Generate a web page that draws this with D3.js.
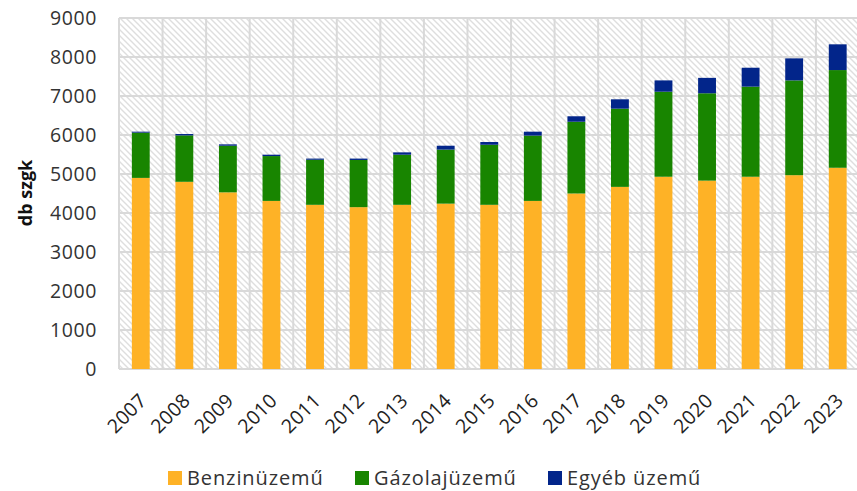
<!DOCTYPE html>
<html>
<head>
<meta charset="utf-8">
<script src="https://cdn.jsdelivr.net/npm/d3@7"></script>
<style>
  body { margin: 0; background: #fff; }
  svg { display: block; font-family: "Open Sans", sans-serif; }
</style>
</head>
<body>
<svg id="chart" width="857" height="491"></svg>
<script>
// chart data
let years = ["2007", "2008", "2009", "2010", "2011", "2012", "2013", "2014", "2015",
  "2016", "2017", "2018", "2019", "2020", "2021", "2022", "2023"];
let benzin = [4900, 4800, 4530, 4310, 4210, 4150, 4210, 4240, 4210,
  4310, 4500, 4670, 4930, 4830, 4930, 4970, 5160];
let gazolaj = [1160, 1190, 1195, 1150, 1155, 1210, 1285, 1385, 1540,
  1675, 1840, 2005, 2180, 2240, 2310, 2430, 2505];
let egyeb = [25, 35, 35, 35, 30, 35, 60, 100, 70,
  100, 140, 240, 290, 395, 485, 565, 660];
let seriesNames = ["Benzinüzemű", "Gázolajüzemű", "Egyéb üzemű"];
let yTicks = [0, 1000, 2000, 3000, 4000, 5000, 6000, 7000, 8000, 9000];

let colors = ["#feb226", "#188500", "#02258a"];
let grid = "#d9d9d9";

let plotLeft = 119, plotRight = 859.5, plotTop = 18, plotBottom = 369;

let svg = d3.select("#chart");

// hatch for plot background
let defs = svg.append("defs");
let pat = defs.append("pattern")
  .attr("id", "hatch")
  .attr("patternUnits", "userSpaceOnUse")
  .attr("width", 6)
  .attr("height", 6);
pat.append("rect").attr("width", 6).attr("height", 6).attr("fill", "#fff");
pat.append("path")
  .attr("d", "M-1,-1 L7,7 M-1,5 L1,7 M5,-1 L7,1")
  .attr("stroke", "#dedede")
  .attr("stroke-width", 1.4);

let x = d3.scaleBand()
  .domain(years)
  .range([plotLeft, plotRight])
  .paddingInner(0.59)
  .paddingOuter(0.295);

let y = d3.scaleLinear()
  .domain([0, 9000])
  .range([plotBottom, plotTop]);

svg.append("rect")
  .attr("x", plotLeft)
  .attr("y", plotTop)
  .attr("width", plotRight - plotLeft)
  .attr("height", plotBottom - plotTop)
  .attr("fill", "url(#hatch)");

// gridlines
let step = x.step();
svg.append("g")
  .selectAll("line")
  .data(years)
  .enter()
  .append("line")
  .attr("x1", d => x(d) - step * 0.295)
  .attr("x2", d => x(d) - step * 0.295)
  .attr("y1", plotTop)
  .attr("y2", plotBottom)
  .attr("stroke", grid)
  .attr("stroke-width", 2);

svg.append("g")
  .selectAll("line")
  .data(yTicks)
  .enter()
  .append("line")
  .attr("x1", plotLeft)
  .attr("x2", plotRight)
  .attr("y1", d => y(d))
  .attr("y2", d => y(d))
  .attr("stroke", grid)
  .attr("stroke-width", 2);

// stacked bars
let rows = years.map((yr, i) => ({ year: yr, b: benzin[i], g: gazolaj[i], e: egyeb[i] }));
let stack = d3.stack().keys(["b", "g", "e"])(rows);

svg.append("g")
  .selectAll("g")
  .data(stack)
  .enter()
  .append("g")
  .attr("fill", (d, i) => colors[i])
  .selectAll("rect")
  .data(d => d)
  .enter()
  .append("rect")
  .attr("x", d => x(d.data.year))
  .attr("width", x.bandwidth())
  .attr("y", d => y(d[1]))
  .attr("height", d => y(d[0]) - y(d[1]));

// y axis labels
svg.append("g")
  .selectAll("text")
  .data(yTicks)
  .enter()
  .append("text")
  .attr("x", 97)
  .attr("y", d => y(d))
  .attr("dy", "0.36em")
  .attr("text-anchor", "end")
  .attr("font-size", 19.5)
  .attr("letter-spacing", 0.6)
  .attr("fill", "#333")
  .text(d => d);

// x axis labels
svg.append("g")
  .selectAll("text")
  .data(years)
  .enter()
  .append("text")
  .attr("transform", d => `translate(${x(d) + x.bandwidth() / 2 + 7},${plotBottom + 33}) rotate(-45)`)
  .attr("text-anchor", "end")
  .attr("font-size", 19.5)
  .attr("letter-spacing", 0.3)
  .attr("fill", "#222")
  .text(d => d);

// axis title
svg.append("text")
  .attr("transform", "translate(32,193) rotate(-90)")
  .attr("text-anchor", "middle")
  .attr("font-size", 18)
  .attr("font-weight", "bold")
  .attr("fill", "#111")
  .text("db szgk");

// legend
let legendX = [168, 355, 548];
let legend = svg.append("g")
  .selectAll("g")
  .data(seriesNames)
  .enter()
  .append("g")
  .attr("transform", (d, i) => `translate(${legendX[i]},471)`);
legend.append("rect")
  .attr("width", 14)
  .attr("height", 14)
  .attr("fill", (d, i) => colors[i]);
legend.append("text")
  .attr("x", 19)
  .attr("y", 14)
  .attr("font-size", 20)
  .attr("letter-spacing", 0.9)
  .attr("fill", "#333")
  .text(d => d);
</script>
</body>
</html>
